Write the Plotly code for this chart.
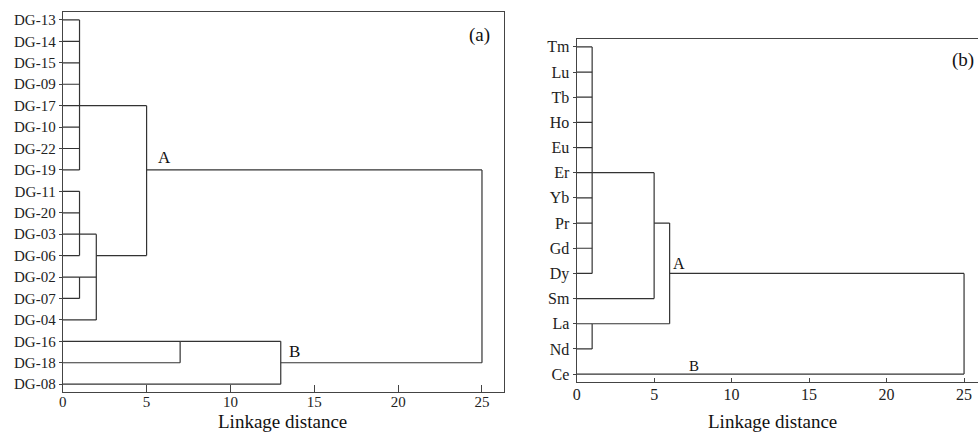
import plotly.graph_objects as go

W, H = 978, 434

# ---------------- data: panel (a) ----------------
leaves_a = ["DG-13", "DG-14", "DG-15", "DG-09", "DG-17", "DG-10", "DG-22", "DG-19",
            "DG-11", "DG-20", "DG-03", "DG-06", "DG-02", "DG-07", "DG-04",
            "DG-16", "DG-18", "DG-08"]
merge_ids_a = ["a1", "a2", "a3", "a4", "A", "b1", "B", "root"]
merge_children_a = [
    ["DG-13", "DG-14", "DG-15", "DG-09", "DG-17", "DG-10", "DG-22", "DG-19"],
    ["DG-11", "DG-20", "DG-03", "DG-06"],
    ["DG-02", "DG-07"],
    ["a2", "a3", "DG-04"],
    ["a1", "a4"],
    ["DG-16", "DG-18"],
    ["b1", "DG-08"],
    ["A", "B"],
]
merge_heights_a = [1, 1, 1, 2, 5, 7, 13, 25]
merge_link_a = ["DG-17", "DG-03", "DG-02", "DG-06", "DG-19", "DG-16", "DG-18", None]

# ---------------- data: panel (b) ----------------
leaves_b = ["Tm", "Lu", "Tb", "Ho", "Eu", "Er", "Yb", "Pr", "Gd", "Dy", "Sm", "La", "Nd", "Ce"]
merge_ids_b = ["c1", "c2", "c3", "A", "root"]
merge_children_b = [
    ["Tm", "Lu", "Tb", "Ho", "Eu", "Er", "Yb", "Pr", "Gd", "Dy"],
    ["c1", "Sm"],
    ["La", "Nd"],
    ["c2", "c3"],
    ["A", "Ce"],
]
merge_heights_b = [1, 5, 1, 6, 25]
merge_link_b = ["Er", "Pr", "La", "Dy", None]

x_ticks = [0, 5, 10, 15, 20, 25]


def dendro_lines(leaves, ids, children, heights, links):
    pos = {lf: i for i, lf in enumerate(leaves)}
    node = {lf: (i, 0) for i, lf in enumerate(leaves)}  # name -> (link row, height)
    xs, ys = [], []
    for nid, ch, h, lk in zip(ids, children, heights, links):
        rows = []
        for c in ch:
            r, ch_h = node[c]
            rows.append(r)
            xs += [ch_h, h, None]
            ys += [r, r, None]
        xs += [h, h, None]
        ys += [min(rows), max(rows), None]
        if lk is not None:
            node[nid] = (pos[lk], h)
    return xs, ys, node


xa, ya, node_a = dendro_lines(leaves_a, merge_ids_a, merge_children_a, merge_heights_a, merge_link_a)
xb, yb, node_b = dendro_lines(leaves_b, merge_ids_b, merge_children_b, merge_heights_b, merge_link_b)

LC = "#333333"
FONT = "Liberation Serif"

fig = go.Figure()
fig.add_trace(go.Scatter(x=xa, y=ya, mode="lines", line=dict(color=LC, width=1.2),
                         xaxis="x", yaxis="y", showlegend=False, hoverinfo="skip"))
fig.add_trace(go.Scatter(x=xb, y=yb, mode="lines", line=dict(color=LC, width=1.2),
                         xaxis="x2", yaxis="y2", showlegend=False, hoverinfo="skip"))

axis_common = dict(showgrid=False, zeroline=False, showline=True, linecolor="#444444",
                   linewidth=1.2)

fig.update_layout(
    width=W, height=H,
    margin=dict(l=0, r=0, t=0, b=0),
    paper_bgcolor="white", plot_bgcolor="white",
    xaxis=dict(domain=[59 / W, 502 / W], range=[0, 26.31], tickvals=x_ticks,
               ticks="inside", ticklen=7, tickcolor="#444444", mirror=True,
               ticklabelstandoff=-4,
               anchor="y", tickfont=dict(family=FONT, size=15, color="#222222"), **axis_common),
    yaxis=dict(domain=[1 - 393 / H, 1 - 12 / H], range=[17.37, -0.373],
               tickvals=list(range(len(leaves_a))), ticktext=leaves_a,
               ticks="outside", ticklen=3, tickcolor="#444444", mirror=True,
               anchor="x", tickfont=dict(family=FONT, size=15, color="#222222"), **axis_common),
    xaxis2=dict(domain=[575 / W, 1.0], range=[0, 25.9], tickvals=x_ticks,
                ticks="inside", ticklen=4, tickcolor="#444444", mirror=True,
                ticklabelstandoff=-2,
                anchor="y2", tickfont=dict(family=FONT, size=16, color="#222222"), **axis_common),
    yaxis2=dict(domain=[1 - 383 / H, 1 - 39 / H], range=[13.32, -0.317],
                tickvals=list(range(len(leaves_b))), ticktext=leaves_b,
                ticks="outside", ticklen=3, tickcolor="#444444", mirror=False,
                anchor="x2", tickfont=dict(family=FONT, size=16, color="#222222"), **axis_common),
)

ann_font = dict(family=FONT, size=17, color="#111111")
r_a, h_a = node_a["A"]
r_b, h_b = node_a["B"]
r_A2, h_A2 = node_b["A"]
annotations = [
    dict(x=h_a, y=r_a, xref="x", yref="y", text="A", showarrow=False,
         xanchor="left", yanchor="bottom", xshift=9, yshift=1, font=ann_font),
    dict(x=h_b, y=r_b, xref="x", yref="y", text="B", showarrow=False,
         xanchor="left", yanchor="bottom", xshift=6, yshift=0, font=ann_font),
    dict(x=h_A2, y=r_A2, xref="x2", yref="y2", text="A", showarrow=False,
         xanchor="left", yanchor="bottom", xshift=1, yshift=-1,
         font=dict(family=FONT, size=16, color="#111111")),
    dict(x=7.6, y=len(leaves_b) - 1, xref="x2", yref="y2", text="B", showarrow=False,
         xanchor="center", yanchor="bottom", yshift=-2,
         font=dict(family=FONT, size=15, color="#111111")),
    dict(x=477 / W, y=1 - 35 / H, xref="paper", yref="paper", text="(a)", showarrow=False,
         xanchor="center", yanchor="middle", font=dict(family=FONT, size=19, color="#111111")),
    dict(x=963 / W, y=1 - 60 / H, xref="paper", yref="paper", text="(b)", showarrow=False,
         xanchor="center", yanchor="middle", font=dict(family=FONT, size=19, color="#111111")),
    dict(x=280 / W, y=0, xref="paper", yref="paper", text="Linkage distance",
         showarrow=False, xanchor="center", yanchor="bottom", borderpad=0,
         font=dict(family=FONT, size=19, color="#111111")),
    dict(x=772 / W, y=0, xref="paper", yref="paper", text="Linkage distance",
         showarrow=False, xanchor="center", yanchor="bottom", borderpad=0,
         font=dict(family=FONT, size=19, color="#111111")),
]
fig.update_layout(annotations=annotations)

fig.write_html(
    "out.html",
    config={"displayModeBar": False},
    post_script="document.body.style.margin='0';document.body.style.padding='0';"
                "document.body.style.overflow='hidden';",
)
